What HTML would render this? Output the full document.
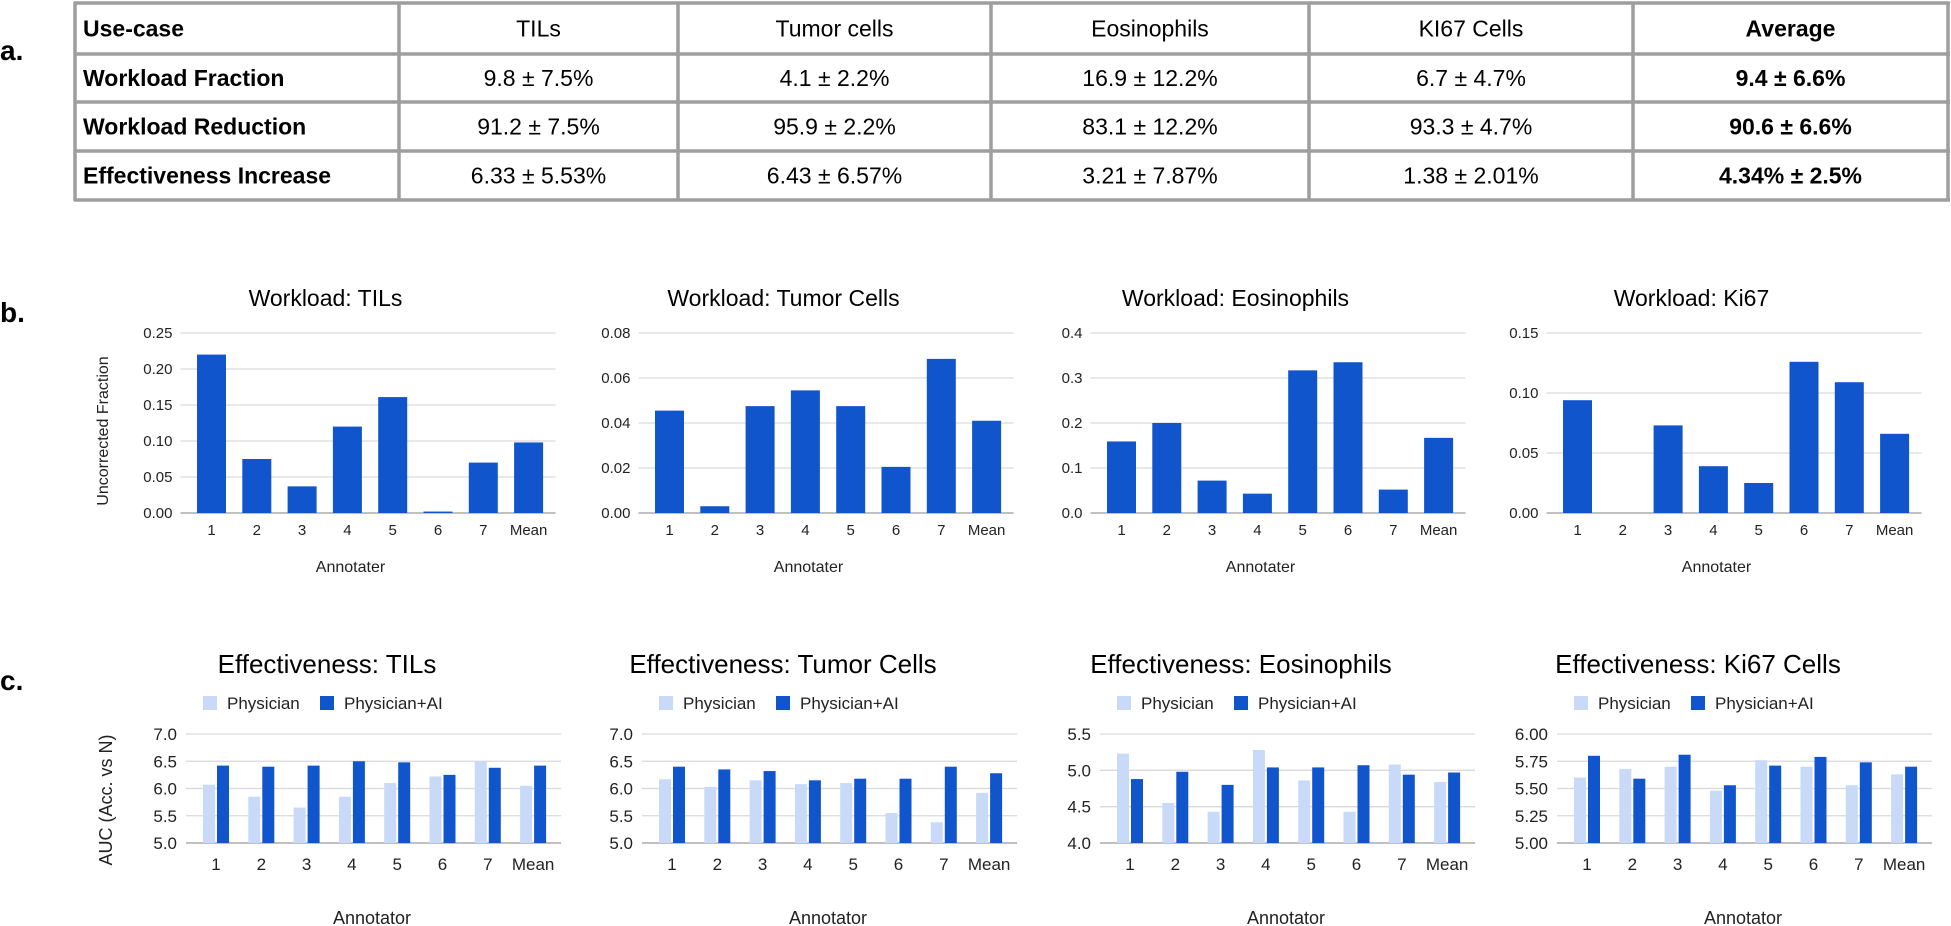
<!DOCTYPE html>
<html><head><meta charset="utf-8"><style>
html,body{margin:0;padding:0;background:#fff;}
svg{display:block;font-family:"Liberation Sans",Arial,sans-serif;}
</style></head><body>
<svg id="s" width="1951" height="926" xmlns="http://www.w3.org/2000/svg">
<text x="0" y="60" font-size="28" font-weight="bold">a.</text>
<text x="0" y="322" font-size="28" font-weight="bold">b.</text>
<text x="0" y="690" font-size="28" font-weight="bold">c.</text>
</svg>
<script>
const S=document.getElementById('s');const NS='http://www.w3.org/2000/svg';
function el(t,a,txt){const e=document.createElementNS(NS,t);for(const k in a)e.setAttribute(k,a[k]);if(txt!==undefined)e.textContent=txt;S.appendChild(e);return e;}
// Table
const cols=[75,399,678,991,1309,1633,1948];const rows=[3,54,102,151,200];
const data=[["Use-case","TILs","Tumor cells","Eosinophils","KI67 Cells","Average"],
["Workload Fraction","9.8 ± 7.5%","4.1 ± 2.2%","16.9 ± 12.2%","6.7 ± 4.7%","9.4 ± 6.6%"],
["Workload Reduction","91.2 ± 7.5%","95.9 ± 2.2%","83.1 ± 12.2%","93.3 ± 4.7%","90.6 ± 6.6%"],
["Effectiveness Increase","6.33 ± 5.53%","6.43 ± 6.57%","3.21 ± 7.87%","1.38 ± 2.01%","4.34% ± 2.5%"]];
for(let r=0;r<4;r++){const cy=(rows[r]+rows[r+1])/2+8;
 for(let c=0;c<6;c++){
  if(c==0)el('text',{x:83,y:cy,'font-size':23,'font-weight':'bold'},data[r][c]);
  else el('text',{x:(cols[c]+cols[c+1])/2,y:cy,'font-size':23,'text-anchor':'middle','font-weight':(c==5?'bold':'normal')},data[r][c]);
 }}
rows.forEach(y=>el('line',{x1:74,x2:1950,y1:y,y2:y,stroke:'#9e9e9e','stroke-width':3.5}));
cols.forEach(x=>el('line',{x1:x,x2:x,y1:2,y2:201,stroke:'#9e9e9e','stroke-width':3.5}));
const cats=["1","2","3","4","5","6","7","Mean"];
// Panel b
const B=[
 {o:0,t:"Workload: TILs",max:0.25,ticks:["0.00","0.05","0.10","0.15","0.20","0.25"],v:[0.22,0.075,0.037,0.12,0.161,0.002,0.07,0.098]},
 {o:458,t:"Workload: Tumor Cells",max:0.08,ticks:["0.00","0.02","0.04","0.06","0.08"],v:[0.0455,0.003,0.0475,0.0545,0.0475,0.0205,0.0685,0.041]},
 {o:910,t:"Workload: Eosinophils",max:0.4,ticks:["0.0","0.1","0.2","0.3","0.4"],v:[0.159,0.2,0.072,0.043,0.317,0.335,0.052,0.167]},
 {o:1366,t:"Workload: Ki67",max:0.15,ticks:["0.00","0.05","0.10","0.15"],v:[0.094,0,0.073,0.039,0.025,0.126,0.109,0.066]}];
B.forEach(p=>{const c1=211.5+p.o,top=333,bot=513,h=bot-top;
 el('text',{x:c1+114,y:306,'font-size':23,'text-anchor':'middle'},p.t);
 const n=p.ticks.length-1;
 p.ticks.forEach((t,i)=>{const y=bot-h*i/n;
  el('line',{x1:c1-31,x2:c1+7*45.3+27,y1:y,y2:y,stroke:i==0?'#9a9a9a':'#d9d9d9','stroke-width':1.3});
  el('text',{x:c1-39,y:y+5,'font-size':15,'text-anchor':'end',fill:'#222'},t);});
 p.v.forEach((v,i)=>{const x=c1+45.3*i,bh=h*v/p.max;if(bh>0)el('rect',{x:x-14.5,y:bot-bh,width:29,height:bh,fill:'#1155cc'});
  el('text',{x:x,y:535,'font-size':15,'text-anchor':'middle',fill:'#222'},cats[i]);});
 el('text',{x:c1+139,y:572,'font-size':16,'text-anchor':'middle',fill:'#222'},"Annotater");
});
el('text',{x:0,y:0,'font-size':16,'text-anchor':'middle',fill:'#222',transform:'translate(108,431) rotate(-90)'},"Uncorrected Fraction");
// Panel c
const C=[
 {o:0,t:"Effectiveness: TILs",min:5,max:7,ticks:["5.0","5.5","6.0","6.5","7.0"],a:[6.07,5.85,5.65,5.85,6.1,6.22,6.5,6.05],b:[6.42,6.4,6.42,6.5,6.48,6.25,6.38,6.42]},
 {o:456,t:"Effectiveness: Tumor Cells",min:5,max:7,ticks:["5.0","5.5","6.0","6.5","7.0"],a:[6.17,6.03,6.15,6.08,6.1,5.55,5.38,5.92],b:[6.4,6.35,6.32,6.15,6.18,6.18,6.4,6.28]},
 {o:914,t:"Effectiveness: Eosinophils",min:4,max:5.5,ticks:["4.0","4.5","5.0","5.5"],a:[5.23,4.55,4.43,5.28,4.86,4.43,5.08,4.84],b:[4.88,4.98,4.8,5.04,5.04,5.07,4.94,4.97]},
 {o:1371,t:"Effectiveness: Ki67 Cells",min:5,max:6,ticks:["5.00","5.25","5.50","5.75","6.00"],a:[5.6,5.68,5.7,5.48,5.76,5.7,5.53,5.63],b:[5.8,5.59,5.81,5.53,5.71,5.79,5.74,5.7]}];
C.forEach(p=>{const c1=216+p.o,top=734,bot=843,h=bot-top;
 el('text',{x:c1+111,y:673,'font-size':26,'text-anchor':'middle'},p.t);
 el('rect',{x:c1-13,y:696,width:14,height:14,fill:'#c9daf8'});
 el('text',{x:c1+11,y:709,'font-size':17,fill:'#222'},"Physician");
 el('rect',{x:c1+104,y:696,width:14,height:14,fill:'#1155cc'});
 el('text',{x:c1+128,y:709,'font-size':17,fill:'#222'},"Physician+AI");
 const n=p.ticks.length-1;
 p.ticks.forEach((t,i)=>{const y=bot-h*i/n;
  el('line',{x1:c1-30,x2:c1+7*45.3+28,y1:y,y2:y,stroke:i==0?'#9a9a9a':'#d9d9d9','stroke-width':1.3});
  el('text',{x:c1-39,y:y+6,'font-size':17,'text-anchor':'end',fill:'#222'},t);});
 for(let i=0;i<8;i++){const x=c1+45.3*i;
  const ha=h*(p.a[i]-p.min)/(p.max-p.min),hb=h*(p.b[i]-p.min)/(p.max-p.min);
  el('rect',{x:x-13,y:bot-ha,width:12,height:ha,fill:'#c9daf8'});
  el('rect',{x:x+1,y:bot-hb,width:12,height:hb,fill:'#1155cc'});
  el('text',{x:x,y:870,'font-size':17,'text-anchor':'middle',fill:'#222'},cats[i]);}
 el('text',{x:c1+156,y:924,'font-size':18,'text-anchor':'middle',fill:'#222'},"Annotator");
});
el('text',{x:0,y:0,'font-size':18,'text-anchor':'middle',fill:'#222',transform:'translate(112,800) rotate(-90)'},"AUC (Acc. vs N)");
</script>
</body></html>
